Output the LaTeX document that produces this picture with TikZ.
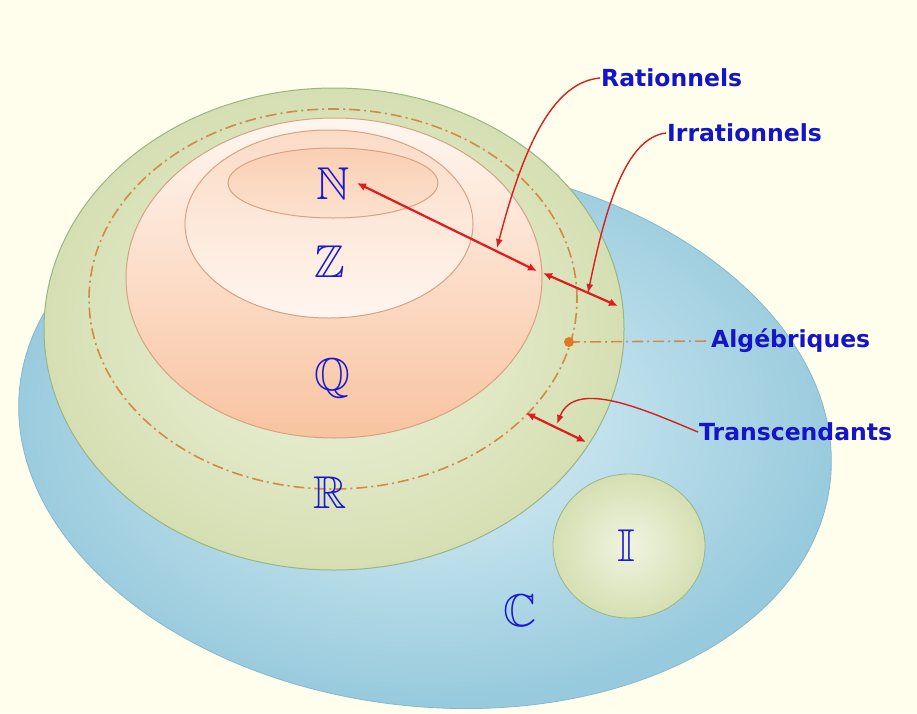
\documentclass[tikz,border=0pt]{standalone}
\usepackage{amssymb}
\usepackage{fontspec}
\setmainfont{DejaVu Sans}
\usetikzlibrary{arrows.meta}
\definecolor{bg}{HTML}{FFFEEC}
\definecolor{blueIn}{HTML}{DFF1F7}
\definecolor{blueOut}{HTML}{97CADD}
\definecolor{blueEdge}{HTML}{86B8CC}
\definecolor{greenIn}{HTML}{F0F4E0}
\definecolor{greenOut}{HTML}{D5DFB2}
\definecolor{greenEdge}{HTML}{98B585}
\definecolor{peachTop}{HTML}{FFF6EF}
\definecolor{peachBot}{HTML}{F8C3A0}
\definecolor{peachEdge}{HTML}{D6A282}
\definecolor{labBlue}{HTML}{1414C8}
\definecolor{setBlue}{HTML}{1A1AD0}
\definecolor{arrRed}{HTML}{E01B1B}
\definecolor{ptrRed}{HTML}{D42020}
\definecolor{algOrange}{HTML}{D3894A}
\definecolor{dotOrange}{HTML}{E07A22}
\tikzset{
  setlab/.style={text=setBlue, font=\fontsize{46}{48}\selectfont, inner sep=0pt},
  catlab/.style={text=labBlue, font=\fontsize{23.5}{26}\selectfont\bfseries, anchor=west, inner sep=1pt},
  dblarrow/.style={draw=arrRed, line width=2.2pt, {Latex[length=9pt,width=8pt]}-{Latex[length=9pt,width=8pt]}},
  pointer/.style={draw=ptrRed, line width=1.4pt, -{Latex[length=9pt,width=7pt]}},
  algline/.style={draw=algOrange, line width=1.6pt, dash pattern=on 11pt off 4pt on 2pt off 4pt},
}
\begin{document}
\begin{tikzpicture}[x=1pt,y=-1pt]
\useasboundingbox (0,0) rectangle (917,713);
\fill[bg] (0,0) rectangle (917,713);
% C ellipse
\shade[inner color=blueIn, outer color=blueOut, rotate around={-7:(425,434)}] (425,434) ellipse [x radius=408pt, y radius=272pt];
\draw[blueEdge, line width=0.8pt, rotate around={-7:(425,434)}] (425,434) ellipse [x radius=408pt, y radius=272pt];
% I circle
\shade[inner color=greenIn, outer color=greenOut] (629,546) ellipse [x radius=76pt, y radius=72pt];
\draw[greenEdge, line width=0.8pt] (629,546) ellipse [x radius=76pt, y radius=72pt];
% R ellipse
\shade[inner color=greenIn, outer color=greenOut] (334,329) ellipse [x radius=290pt, y radius=241pt];
\draw[greenEdge, line width=1pt] (334,329) ellipse [x radius=290pt, y radius=241pt];
% algebraic dash-dot ellipse
\draw[algline] (333,299) ellipse [x radius=244pt, y radius=190pt];
% Q ellipse
\shade[top color=peachTop, bottom color=peachBot] (334,278) ellipse [x radius=208pt, y radius=160pt];
\draw[peachEdge, line width=1pt] (334,278) ellipse [x radius=208pt, y radius=160pt];
% Z ellipse
\shade[top color=peachBot!60!white, bottom color=peachTop] (329,224) ellipse [x radius=144pt, y radius=94pt];
\draw[peachEdge, line width=1pt] (329,224) ellipse [x radius=144pt, y radius=94pt];
% N ellipse
\shade[top color=peachBot!80!white, bottom color=peachTop!60!peachBot] (333,183) ellipse [x radius=105pt, y radius=35pt];
\draw[peachEdge, line width=1pt] (333,183) ellipse [x radius=105pt, y radius=35pt];
% set letters
\node[setlab] (N) at (333,184) {$\mathbb{N}$};
\node[setlab] (Z) at (330,262) {$\mathbb{Z}$};
\node[setlab] (Q) at (332,378) {$\mathbb{Q}$};
\node[setlab] (R) at (330,493) {$\mathbb{R}$};
\node[setlab] (I) at (626,546) {$\mathbb{I}$};
\node[setlab] (C) at (520,611) {$\mathbb{C}$};
% category labels
\node[catlab] (rat) at (600,78) {Rationnels};
\node[catlab] (irr) at (666,133) {Irrationnels};
\node[catlab] (alg) at (710,341) {Algébriques};
\node[catlab] (tra) at (698,432) {Transcendants};
% arrow ends
\coordinate (nA) at (357,183);
\coordinate (qA) at (537,271);
\coordinate (qB) at (543,273);
\coordinate (rB) at (618,306);
\coordinate (tA) at (526,413);
\coordinate (tB) at (586,442);
\coordinate (ratT) at (497,248);
\coordinate (irrT) at (588,293);
\coordinate (traT) at (557,424);
\coordinate (dot) at (569,342);
% double arrows
\draw[dblarrow] (nA) -- (qA);
\draw[dblarrow] (qB) -- (rB);
\draw[dblarrow] (tA) -- (tB);
% pointers
\draw[pointer] (rat.west) .. controls (555,82) and (525,140) .. (ratT);
\draw[pointer] (irr.west) .. controls (625,138) and (605,210) .. (irrT);
\draw[pointer] (tra.west) .. controls (645,410) and (575,378) .. (traT);
% algebraic marker
\draw[algline] (dot) -- (alg.west);
\fill[dotOrange] (dot) circle (5pt);
\end{tikzpicture}
\end{document}
